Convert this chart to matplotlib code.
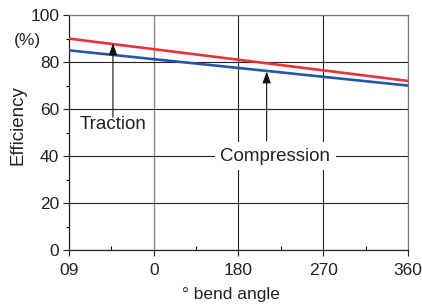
"""Bend angle efficiency chart."""

import matplotlib
matplotlib.use("Agg")
import matplotlib.pyplot as plt
from matplotlib.ticker import MultipleLocator

plt.rcParams['font.family'] = ['Liberation Sans', 'DejaVu Sans']

# Data
angle = [0, 360]
traction = [90, 72]
compression = [85, 70]

x_ticks = [0, 90, 180, 270, 360]
x_labels = ['09', '0', '180', '270', '360']
y_ticks = [0, 20, 40, 60, 80, 100]

RED = '#e8323c'
BLUE = '#2457a8'
FS = 12.5
LFS = 13.5

fig = plt.figure(figsize=(4.22, 3.08), dpi=100)
ax = fig.add_axes([0.1635, 0.188, 0.803, 0.763])

ax.plot(angle, traction, color=RED, lw=1.9, zorder=3)
ax.plot(angle, compression, color=BLUE, lw=1.9, zorder=3)

ax.set_xlim(0, 360)
ax.set_ylim(0, 100)
ax.set_xticks(x_ticks)
ax.set_xticklabels(x_labels)
ax.set_yticks(y_ticks)
ax.xaxis.set_minor_locator(MultipleLocator(45))
ax.yaxis.set_minor_locator(MultipleLocator(10))

ax.tick_params(axis='both', which='major', direction='out', length=4,
               width=0.8, labelsize=FS, colors='#222222', pad=3)
ax.tick_params(axis='x', which='major', pad=5)
ax.tick_params(axis='x', which='minor', direction='in', length=3, width=0.8)
ax.tick_params(axis='y', which='minor', direction='out', length=2, width=0.8)

ax.grid(True, which='major', color='#222222', lw=0.8)
ax.set_axisbelow(True)
# the 90 degree line is drawn lighter
ax.xaxis.get_gridlines()[1].set_color('#888888')
ax.xaxis.get_gridlines()[1].set_linewidth(1.0)

for side in ['left', 'bottom']:
    ax.spines[side].set_color('#222222')
    ax.spines[side].set_linewidth(0.9)
for side in ['top', 'right']:
    ax.spines[side].set_color('#777777')
    ax.spines[side].set_linewidth(0.9)

arrow = dict(arrowstyle='-|>,head_length=0.7,head_width=0.25',
             color='#111111', lw=0.8, shrinkA=0, shrinkB=0)

# Traction label and arrow
ax.annotate('', xy=(46.7, 88.0), xytext=(46.7, 56.5), arrowprops=arrow,
            zorder=4)
ax.text(46.7, 53.5, 'Traction', ha='center', va='center', fontsize=LFS,
        color='#222222', zorder=5)

# Compression label and arrow
ax.annotate('', xy=(210, 76.0), xytext=(210, 46.5), arrowprops=arrow,
            zorder=4)
ax.text(219, 40, 'Compression', ha='center', va='center', fontsize=LFS,
        color='#222222', zorder=5,
        bbox=dict(facecolor='white', edgecolor='none', pad=4.0))

fig.text(0.042, 0.594, 'Efficiency', rotation=90, ha='center', va='center',
         fontsize=LFS, color='#222222')
fig.text(0.066, 0.87, '(%)', ha='center', va='center', fontsize=FS,
         color='#222222')
fig.text(0.547, 0.044, '° bend angle', ha='center', va='center',
         fontsize=FS, color='#222222')

fig.savefig('out.png', dpi=100)
plt.close(fig)
